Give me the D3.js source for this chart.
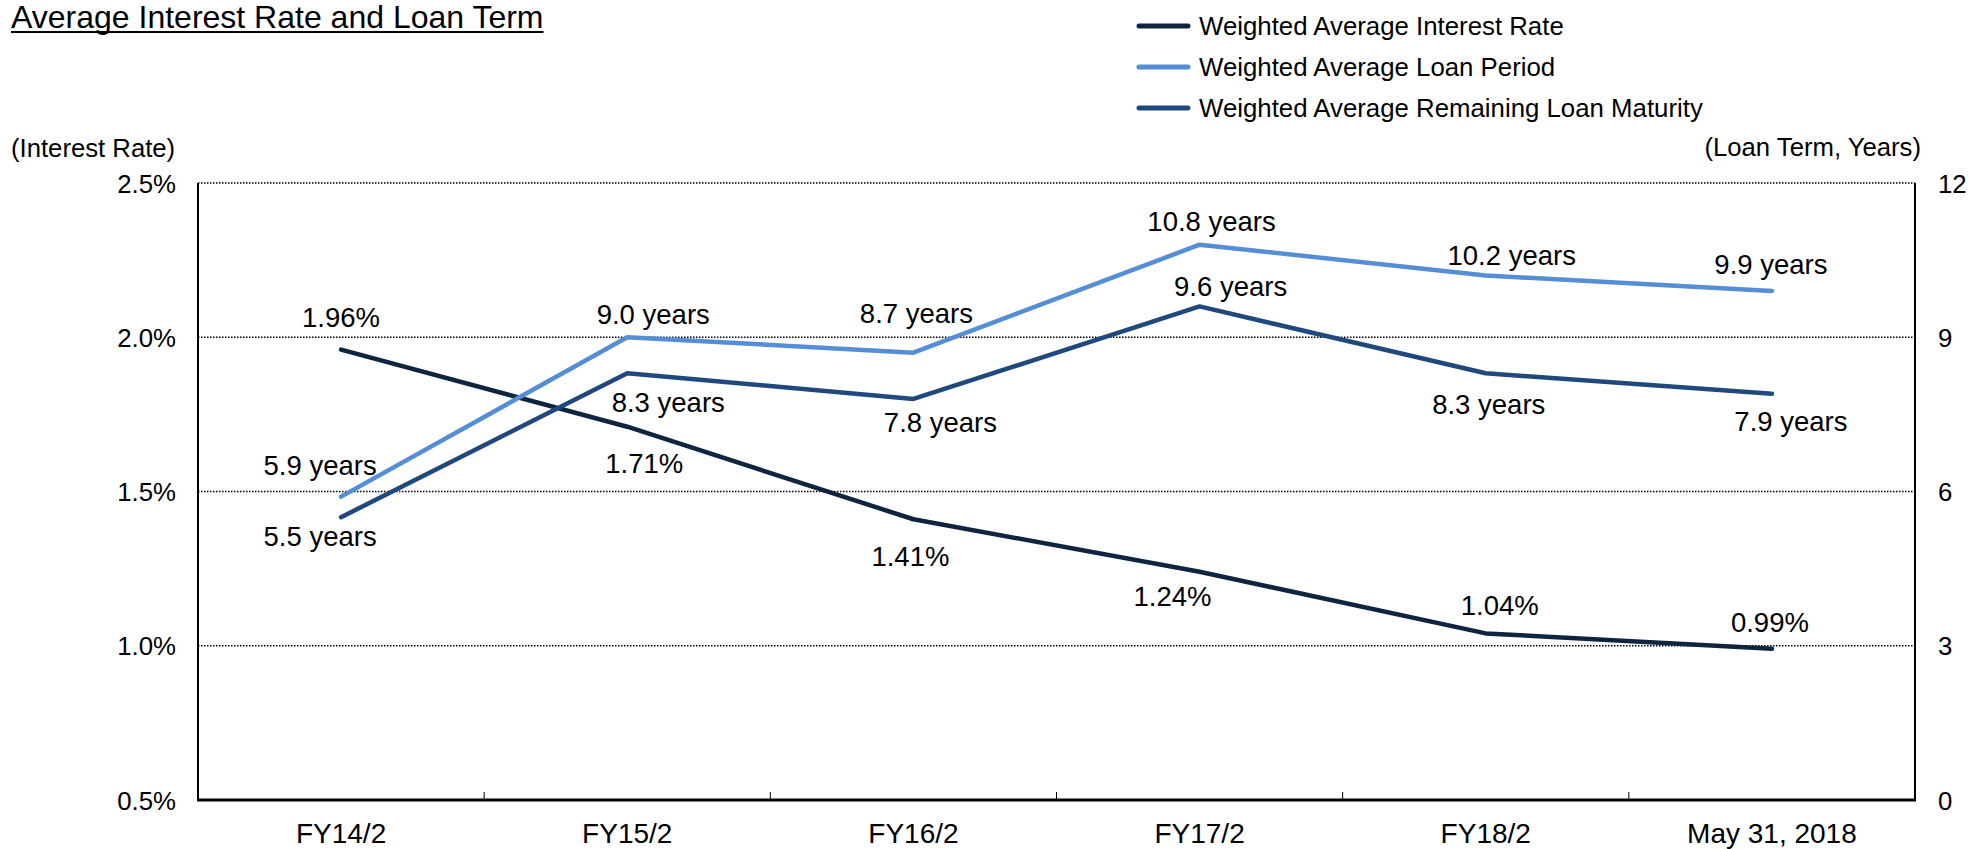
<!DOCTYPE html>
<html>
<head>
<meta charset="utf-8">
<script src="https://cdn.jsdelivr.net/npm/d3@7"></script>
<style>
  html, body { margin: 0; padding: 0; background: #fff; }
  svg { display: block; font-family: Arial, "Liberation Sans", sans-serif; }
</style>
</head>
<body>
<svg id="chart" width="1970" height="849"></svg>
<script>
// ─── Data ───────────────────────────────────────
const categories        = ['FY14/2', 'FY15/2', 'FY16/2', 'FY17/2', 'FY18/2', 'May 31, 2018'];
const interestRate      = [1.96, 1.71, 1.41, 1.24, 1.04, 0.99];   // %
const loanPeriod        = [5.9, 9.0, 8.7, 10.8, 10.2, 9.9];       // years
const remainingMaturity = [5.5, 8.3, 7.8, 9.6, 8.3, 7.9];         // years
const leftTicks  = [0.5, 1.0, 1.5, 2.0, 2.5];
const rightTicks = [0, 3, 6, 9, 12];

// label nudges (px) for each point, kept apart from the values
const rateLabelPos   = [[0,-32],[17,37],[-3,37],[-27,25],[14,-28],[-2,-26]];
const periodLabelPos = [[-21,-31],[26,-23],[3,-39],[12,-23],[26,-20],[-1,-26]];
const remainLabelPos = [[-21,19],[41,29],[27,24],[31,-20],[3,31],[19,28]];

const series = [
  { name: 'Weighted Average Interest Rate',           values: interestRate,      axis: 'left',  color: '#0f243e', fmt: d => d.toFixed(2) + '%',       pos: rateLabelPos },
  { name: 'Weighted Average Loan Period',             values: loanPeriod,        axis: 'right', color: '#558ed5', fmt: d => d.toFixed(1) + ' years', pos: periodLabelPos },
  { name: 'Weighted Average Remaining Loan Maturity', values: remainingMaturity, axis: 'right', color: '#1f497d', fmt: d => d.toFixed(1) + ' years', pos: remainLabelPos }
];

// ─── Layout ─────────────────────────────────────
const L = 198, R = 1915, T = 183, B = 800;
const svg = d3.select('#chart');

const x  = d3.scaleBand().domain(categories).range([L, R]);
const yL = d3.scaleLinear().domain([0.5, 2.5]).range([B, T]);
const yR = d3.scaleLinear().domain([0, 12]).range([B, T]);
const cx = c => x(c) + x.bandwidth() / 2;

// ─── Title ──────────────────────────────────────
const title = svg.append('text')
  .attr('x', 11).attr('y', 28)
  .attr('font-size', 32).attr('fill', '#000')
  .text('Average Interest Rate and Loan Term');
const tw = title.node().getComputedTextLength();
svg.append('line')
  .attr('x1', 11).attr('x2', 11 + tw).attr('y1', 32).attr('y2', 32)
  .attr('stroke', '#000').attr('stroke-width', 2);

// ─── Legend ─────────────────────────────────────
const lg = svg.append('g');
series.forEach((s, i) => {
  const yy = 26 + i * 41;
  lg.append('line')
    .attr('x1', 1139).attr('x2', 1188).attr('y1', yy).attr('y2', yy)
    .attr('stroke', s.color).attr('stroke-width', 5).attr('stroke-linecap', 'round');
  lg.append('text')
    .attr('x', 1199).attr('y', yy).attr('dominant-baseline', 'central')
    .attr('font-size', 25.8).text(s.name);
});

// ─── Axis titles ────────────────────────────────
svg.append('text').attr('x', 11).attr('y', 148)
  .attr('dominant-baseline', 'central').attr('font-size', 25.7)
  .text('(Interest Rate)');
svg.append('text').attr('x', 1921).attr('y', 147)
  .attr('dominant-baseline', 'central').attr('text-anchor', 'end').attr('font-size', 25.7)
  .text('(Loan Term, Years)');

// ─── Gridlines ──────────────────────────────────
svg.append('g').selectAll('line')
  .data(leftTicks.filter(d => d > 0.5))
  .enter().append('line')
    .attr('x1', L).attr('x2', R)
    .attr('y1', d => yL(d)).attr('y2', d => yL(d))
    .attr('stroke', '#000').attr('stroke-width', 1.3)
    .attr('stroke-dasharray', '1.5,1.5');

// ─── Axes ───────────────────────────────────────
const axL = svg.append('g').attr('transform', `translate(${L},0)`)
  .call(d3.axisLeft(yL).tickValues(leftTicks).tickSize(0).tickPadding(22)
    .tickFormat(d => d.toFixed(1) + '%'));
const axR = svg.append('g').attr('transform', `translate(${R},0)`)
  .call(d3.axisRight(yR).tickValues(rightTicks).tickSize(0).tickPadding(23)
    .tickFormat(d3.format('d')));
const axB = svg.append('g').attr('transform', `translate(0,${B})`)
  .call(d3.axisBottom(x).tickSize(0).tickPadding(0));

[axL, axR, axB].forEach(a => {
  a.select('.domain').remove();
  a.selectAll('text').attr('fill', '#000').attr('font-family', null);
});
axL.selectAll('text').attr('font-size', 25.8).attr('dy', '0.35em');
axR.selectAll('text').attr('font-size', 25.8).attr('dy', '0.35em');
axB.selectAll('text').attr('font-size', 28).attr('y', 33).attr('dy', '0.35em');

// borders
svg.append('line').attr('x1', L).attr('x2', L).attr('y1', T).attr('y2', B)
  .attr('stroke', '#000').attr('stroke-width', 2);
svg.append('line').attr('x1', R).attr('x2', R).attr('y1', T).attr('y2', B)
  .attr('stroke', '#000').attr('stroke-width', 2);
svg.append('line').attr('x1', L - 1).attr('x2', R + 1).attr('y1', B).attr('y2', B)
  .attr('stroke', '#000').attr('stroke-width', 3);

// inner category ticks
svg.append('g').selectAll('line')
  .data(categories.slice(1))
  .enter().append('line')
    .attr('x1', d => x(d)).attr('x2', d => x(d))
    .attr('y1', B).attr('y2', B - 8)
    .attr('stroke', '#000').attr('stroke-width', 1);

// ─── Lines & labels ─────────────────────────────
series.forEach(s => {
  const y = s.axis === 'left' ? yL : yR;
  const line = d3.line()
    .x((d, i) => cx(categories[i]))
    .y(d => y(d));

  svg.append('path')
    .datum(s.values)
    .attr('d', line)
    .attr('fill', 'none')
    .attr('stroke', s.color)
    .attr('stroke-width', 4.5)
    .attr('stroke-linejoin', 'round')
    .attr('stroke-linecap', 'round');
});

series.forEach(s => {
  const y = s.axis === 'left' ? yL : yR;
  svg.append('g').selectAll('text')
    .data(s.values)
    .enter().append('text')
      .attr('x', (d, i) => cx(categories[i]) + s.pos[i][0])
      .attr('y', (d, i) => y(d) + s.pos[i][1])
      .attr('text-anchor', 'middle')
      .attr('dominant-baseline', 'central')
      .attr('font-size', 27.5)
      .attr('fill', '#000')
      .text(d => s.fmt(d));
});
</script>
</body>
</html>
